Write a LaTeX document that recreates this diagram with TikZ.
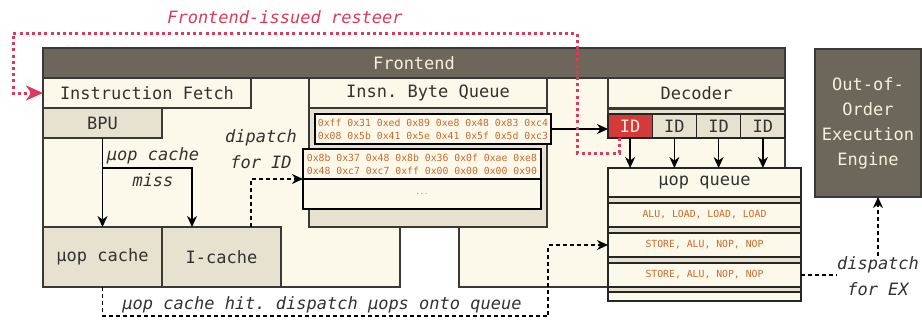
\documentclass[tikz,border=0pt]{standalone}
\usepackage{fontspec}
\setmonofont{DejaVu Sans Mono}
\usetikzlibrary{arrows.meta}

\definecolor{darkfill}{HTML}{6C675A}
\definecolor{cream}{HTML}{FDF9EA}
\definecolor{beige}{HTML}{E7E2D0}
\definecolor{linec}{HTML}{3A3935}
\definecolor{headtext}{HTML}{F4F0DC}
\definecolor{idred}{HTML}{D53A3A}
\definecolor{resteer}{HTML}{DC3A5C}
\definecolor{bytec}{HTML}{C86A2C}
\definecolor{dotsblue}{HTML}{6A8EE0}
\definecolor{txt}{HTML}{333230}

\begin{document}
\begin{tikzpicture}[x=1pt, y=-1pt,
  lbl/.style={font=\ttfamily\fontsize{17}{20}\selectfont},
  ilbl/.style={font=\ttfamily\itshape\fontsize{17}{26}\selectfont, align=center, text=txt, inner sep=0pt},
  box/.style={draw=linec, line width=1.4pt, inner sep=0pt, outer sep=0pt, lbl, text=txt},
  creambox/.style={box, fill=cream},
  beigebox/.style={box, fill=beige},
  darkbox/.style={box, fill=darkfill, text=headtext},
  bytebox/.style={draw=black, line width=1.5pt, fill=cream, inner sep=0pt, outer sep=0pt,
    align=center, text=bytec, font=\ttfamily\fontsize{9.8}{13}\selectfont},
  idbox/.style={draw=black!85, line width=1.4pt, fill=beige, inner sep=0pt, outer sep=0pt,
    minimum width=44.25pt, minimum height=24pt, lbl, text=txt},
  slot/.style={draw=black!85, line width=1.4pt, fill=cream, inner sep=0pt, outer sep=0pt,
    minimum width=193pt, text=bytec, font=\ttfamily\fontsize{9.8}{12}\selectfont},
  arr/.style={line width=1.4pt, -{Stealth[length=11pt, width=10pt, inset=3.5pt]}},
  darr/.style={arr, dash pattern=on 4pt off 3pt},
  rarr/.style={draw=resteer, line width=3pt, dash pattern=on 3pt off 3.2pt,
    -{Stealth[length=17pt, width=15pt, inset=5pt]}}
]
\useasboundingbox (0,0) rectangle (922,322);

% Frontend body with its notch below the byte queue
\draw[fill=cream, draw=linec, line width=1.4pt]
  (43,78) -- (785,78) -- (785,287) -- (459,287) -- (459,227) -- (400,227)
  -- (400,287) -- (43,287) -- cycle;
\node[darkbox, minimum width=742pt, minimum height=30pt] (fe) at (414,63) {Frontend};

% Fetch column
\node[creambox, minimum width=208pt, minimum height=30pt] (ifetch) at (147,93) {Instruction Fetch};
\node[beigebox, minimum width=119pt, minimum height=30pt] (bpu) at (102.5,123) {BPU};
\node[beigebox, minimum width=119pt, minimum height=60pt] (ucache) at (102.5,257) {µop cache};
\node[beigebox, minimum width=119pt, minimum height=60pt] (icache) at (221.5,257) {I-cache};

% Instruction byte queue
\node[creambox, minimum width=238pt, minimum height=30pt] (ibq) at (428,93) {Insn. Byte Queue};
\node[beigebox, minimum width=238pt, minimum height=119pt] (ibqbody) at (428,167.5) {};
\node[bytebox, minimum width=236pt, minimum height=30pt] (rowA) at (433,129)
  {0xff 0x31 0xed 0x89 0xe8 0x48 0x83 0xc4\\0x08 0x5b 0x41 0x5e 0x41 0x5f 0x5d 0xc3};
\node[bytebox, minimum width=238pt, minimum height=30pt] (rowB) at (422,164)
  {0x8b 0x37 0x48 0x8b 0x36 0x0f 0xae 0xe8\\0x48 0xc7 0xc7 0xff 0x00 0x00 0x00 0x90};
\node[bytebox, minimum width=238pt, minimum height=30pt, text=dotsblue,
  font=\ttfamily\fontsize{7}{8}\selectfont] (rowC) at (422,194) {...};

% Decoder
\node[creambox, minimum width=177pt, minimum height=30pt] (dec) at (696.5,93) {Decoder};
\node[beigebox, minimum width=177pt, minimum height=29pt] (decbody) at (696.5,123.5) {};
\node[idbox, fill=idred, text=headtext] (id1) at (630.1,126) {ID};
\node[idbox] (id2) at (674.4,126) {ID};
\node[idbox] (id3) at (718.6,126) {ID};
\node[idbox] (id4) at (762.9,126) {ID};

% Micro-op queue
\node[beigebox, draw=black!85, minimum width=193pt, minimum height=104pt] (uqbody) at (704.5,249) {};
\node[slot, minimum height=29pt, lbl, text=txt] (uq) at (704.5,182.5) {µop queue};
\node[slot, minimum height=24pt] (slot1) at (704.5,215) {ALU, LOAD, LOAD, LOAD};
\node[slot, minimum height=24pt] (slot2) at (704.5,245) {STORE, ALU, NOP, NOP};
\node[slot, minimum height=24pt] (slot3) at (704.5,275) {STORE, ALU, NOP, NOP};
\node[slot, minimum height=9pt] (slot4) at (704.5,296.5) {};

% Back end
\node[darkbox, minimum width=106pt, minimum height=148pt, align=center,
  font=\ttfamily\fontsize{17}{25}\selectfont] (ooo) at (868,123)
  {Out-of-\\Order\\Execution\\Engine};

% Labels
\node[ilbl, text=resteer] (rslbl) at (285,17) {Frontend-issued resteer};
\node[ilbl] (misslbl) at (153,167) {µop cache\\miss};
\node[ilbl] (idlbl) at (261,149) {dipatch\\for ID};
\node[ilbl] (hitlbl) at (322,305) {µop cache hit. dispatch µops onto queue};
\node[ilbl] (exlbl) at (878,276) {dispatch\\for EX};

% Fetch paths
\coordinate (mj) at (102.5,168);
\draw[arr] (bpu.south) -- (ucache.north);
\draw[arr] (mj) -| ([xshift=30pt]icache.north west);
\draw[darr] ([xshift=-30pt]icache.north east) |- (rowB.south west);

% Byte queue to decoders, decoders to micro-op queue
\draw[arr] (rowA.east) -- (rowA.east -| id1.west);
\foreach \k in {1,2,3,4} \draw[arr] (id\k.south) -- (id\k.south |- uq.north);

% Micro-op cache hit path
\coordinate (hitc) at (548,316);
\draw[darr] (ucache.south) |- (hitc) |- (slot2.west);

% Dispatch to execution
\draw[line width=1.4pt, dash pattern=on 4pt off 3pt] (slot3.east) -- (slot3.east -| exlbl.west);
\draw[darr] (exlbl.north) -- (exlbl.north |- ooo.south);

% Resteer from the first decoder back to fetch
\coordinate (rs1) at (577,33);
\coordinate (rs2) at (13,33);
\draw[rarr] ([xshift=-11pt]id1.south) -- ++(0,15) -| (rs1) -| (rs2 |- ifetch.west) -- (ifetch.west);
\end{tikzpicture}
\end{document}
